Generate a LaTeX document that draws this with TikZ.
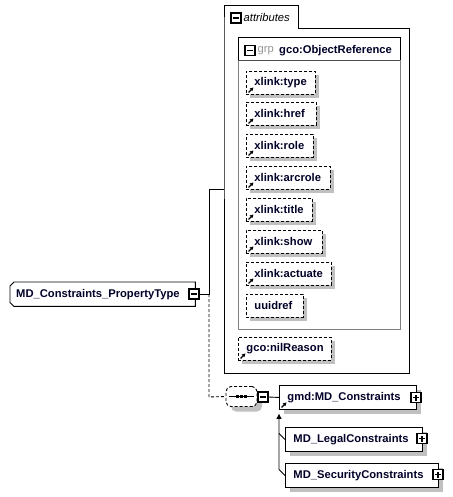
\documentclass[tikz,border=0pt]{standalone}
\usepackage{fontspec}
\setmainfont{Liberation Sans}
\usetikzlibrary{calc,arrows.meta,shadows}
\definecolor{txt}{RGB}{0,0,40}
\definecolor{shd}{RGB}{192,192,192}
\definecolor{grpgray}{RGB}{128,128,128}
\definecolor{grplbl}{RGB}{150,150,150}
\pgfdeclarelayer{bg}
\pgfsetlayers{bg,main}
\tikzset{
  fnt/.style={font=\fontsize{11.2}{13}\selectfont\bfseries, text=txt},
  shdw/.style={drop shadow={shadow xshift=4pt, shadow yshift=-4pt, fill=shd, opacity=1}},
  attrbox/.style={fnt, draw, dash pattern=on 3pt off 2pt, fill=white, line width=0.9pt, anchor=north west,
    minimum height=23pt, inner xsep=8pt, inner ysep=0pt, shdw},
  elembox/.style={fnt, draw, fill=white, line width=0.9pt, anchor=north west,
    minimum height=24pt, inner xsep=8pt, inner ysep=0pt,
    drop shadow={shadow xshift=5pt, shadow yshift=-5pt, fill=shd, opacity=1}},
  minusbox/.style={draw, line width=1.1pt, fill=white, minimum size=10pt, inner sep=0pt,
    path picture={\draw[line width=1.1pt] ([xshift=2pt]path picture bounding box.west) -- ([xshift=-2pt]path picture bounding box.east);}},
  plusbox/.style={draw, line width=1.1pt, fill=white, minimum size=10pt, inner sep=0pt,
    path picture={\draw[line width=1.1pt] ([xshift=2pt]path picture bounding box.west) -- ([xshift=-2pt]path picture bounding box.east);
      \draw[line width=1.1pt] ([yshift=-2pt]path picture bounding box.north) -- ([yshift=2pt]path picture bounding box.south);}},
  refarr/.style={solid, line width=1.2pt, -{Triangle[length=3.5pt,width=3.5pt]}},
  conn/.style={line width=0.9pt},
}
\begin{document}
\begin{tikzpicture}[x=1pt,y=-1pt]
\useasboundingbox (0,0) rectangle (452,497);

% attributes container
\draw[line width=0.9pt] (224,28) -- (224,5) -- (298,5) -- (298,28) -- (409,28) -- (409,373) -- (224,373) -- cycle;
\node[minusbox] (attrmin) at (236,18) {};
\node[anchor=west, inner sep=0pt, font=\fontsize{11.2}{13}\selectfont\itshape] (attrlbl) at (243.5,17.5) {attributes};

% group box
\draw[grpgray, line width=0.9pt] (238,60) rectangle (400,329);
\draw[line width=0.9pt] (238,60) -- (238,37) -- (400,37) -- (400,60);
\draw[line width=0.6pt, black!70] (238,60) -- (400,60);
\node[minusbox] (grpmin) at (250,50.5) {};
\node[anchor=west, inner sep=0pt, font=\fontsize{11.2}{13}\selectfont, text=grplbl] (grpl) at (257.5,50.5) {grp};
\node[fnt, anchor=west, inner sep=0pt] (grpname) at (279,50.5) {gco:ObjectReference};

% attributes
\node[attrbox, text width=53pt] (a1) at (246,71) {xlink:type};
\node[attrbox, text width=54pt] (a2) at (246,102) {xlink:href};
\node[attrbox, text width=51pt] (a3) at (246,134) {xlink:role};
\node[attrbox, text width=68pt] (a4) at (246,166) {xlink:arcrole};
\node[attrbox, text width=50pt] (a5) at (246,198) {xlink:title};
\node[attrbox, text width=60pt] (a6) at (246,230) {xlink:show};
\node[attrbox, text width=69pt] (a7) at (246,262) {xlink:actuate};
\node[attrbox, text width=41pt] (a8) at (246,294) {uuidref};
\node[attrbox, text width=77pt] (a9) at (238,337) {gco:nilReason};
\foreach \n in {a1,a2,a3,a4,a5,a6,a7,a9}
  \draw[refarr] ($(\n.south west)+(2.5,-2.5)$) -- +(5,-5);

% main element
\node[fnt, anchor=north west, minimum width=185pt, minimum height=24pt, inner xsep=6pt, inner ysep=0pt, text width=173pt] (pt) at (10,282) {MD\_Constraints\_PropertyType};
\begin{pgfonlayer}{bg}
  \fill[shd, shift={(5,5)}] ($(pt.north west)+(4,0)$) -- (pt.north east) -- (pt.south east) -- ($(pt.south west)+(4,0)$) -- ($(pt.south west)+(0,-4)$) -- ($(pt.north west)+(0,4)$) -- cycle;
  \draw[fill=white, line width=0.9pt] ($(pt.north west)+(4,0)$) -- (pt.north east) -- (pt.south east) -- ($(pt.south west)+(4,0)$) -- ($(pt.south west)+(0,-4)$) -- ($(pt.north west)+(0,4)$) -- cycle;
\end{pgfonlayer}
\node[minusbox] (ptmin) at (194,294) {};

% connectors
\coordinate (j1) at (209,294);
\coordinate (j2) at (209,189);
\coordinate (attrL) at (224,189);
\coordinate (j3) at (209,397);
\draw[conn] (ptmin.east) -- (j1) -- (j2) -- (attrL);

% sequence
\node[draw, dash pattern=on 3pt off 2pt, line width=0.9pt, rounded corners=5pt, fill=white, minimum width=31pt, minimum height=20pt, inner sep=0pt,
  drop shadow={shadow xshift=5pt, shadow yshift=-5pt, fill=shd, opacity=1}] (seq) at (241.5,396.5) {};
\draw[conn] ($(seq.west)+(3,0)$) -- ($(seq.east)+(-3,0)$);
\foreach \dx in {-4,0,4}
  \fill ($(seq.center)+(\dx,0)$) +(-1.5,-1.5) rectangle +(1.5,1.5);
\node[minusbox] (seqmin) at (263,397) {};
\draw[conn, dash pattern=on 3pt off 2pt] (j1) -- (j3) -- (seq.west);

% element boxes
\node[elembox, text width=121pt] (gmd) at (279,385) {gmd:MD\_Constraints};
\draw[refarr] ($(gmd.south west)+(2.5,-2.5)$) -- +(5,-5);
\node[plusbox] (gmdplus) at (416,397.5) {};
\draw[conn] (seqmin.east) -- (gmd.west);

\node[elembox, text width=121pt] (leg) at (285,427) {MD\_LegalConstraints};
\node[plusbox] (legplus) at (422,438.5) {};
\node[elembox, text width=137pt] (sec) at (285,463) {MD\_SecurityConstraints};
\node[plusbox] (secplus) at (438,474.5) {};

\draw[conn, -{Triangle[length=5pt,width=5pt]}] (sec.west) -- ++(-6,-6) coordinate (b1) -- ($(gmd.south west)+(0,4)$);
\draw[conn] (leg.west) -- ++(-6,-6);
\end{tikzpicture}
\end{document}
